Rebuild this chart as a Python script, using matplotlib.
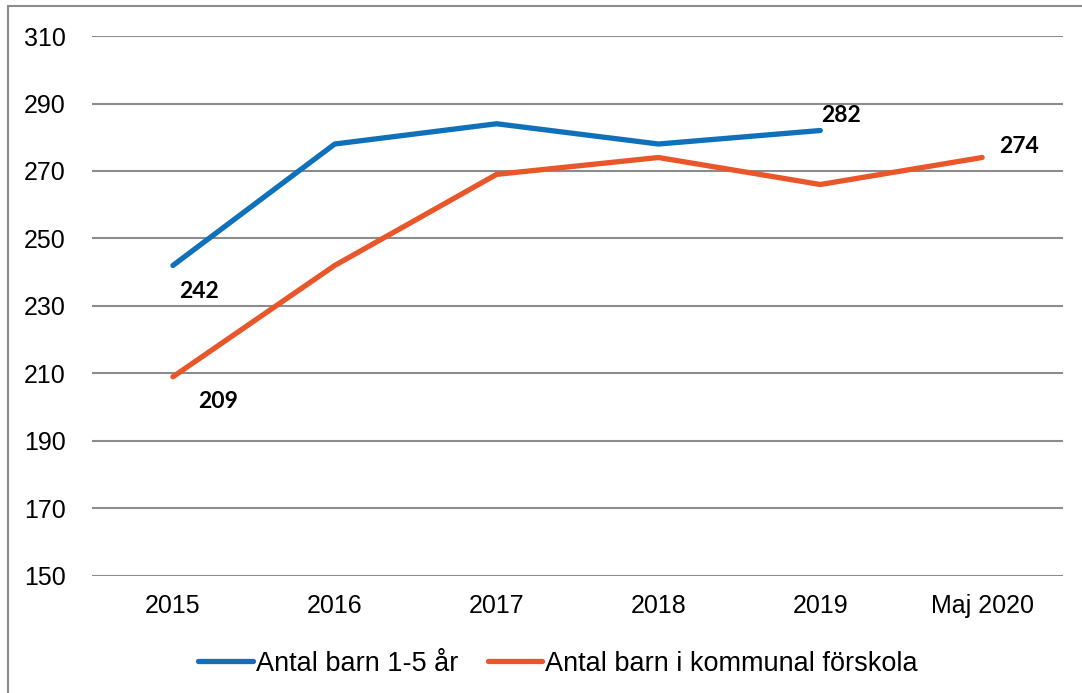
import matplotlib
matplotlib.use("Agg")
from matplotlib import pyplot as plt
from matplotlib.patches import Rectangle

years = ['2015', '2016', '2017', '2018', '2019', 'Maj 2020']
barn_1_5 = [242, 278, 284, 278, 282]
barn_forskola = [209, 242, 269, 274, 266, 274]
y_ticks = [150, 170, 190, 210, 230, 250, 270, 290, 310]

plt.rcParams['font.family'] = ['Liberation Sans', 'DejaVu Sans']

fig = plt.figure(figsize=(10.82, 6.93), dpi=100)
ax = fig.add_axes([0.085, 0.169, 0.8975, 0.779])

# ram runt hela figuren
fig.patches.append(Rectangle((8 / 1082, -0.1), 1.2, 1 - 6 / 693 + 0.1, transform=fig.transFigure,
                             fill=False, edgecolor='#8c8c8c', linewidth=1.5))

x = list(range(len(years)))
ax.plot(x[:len(barn_1_5)], barn_1_5, color='#0F71BA', linewidth=3.8,
        solid_capstyle='round', label='Antal barn 1-5 år')
ax.plot(x, barn_forskola, color='#E8562A', linewidth=3.8,
        solid_capstyle='round', label='Antal barn i kommunal förskola')

lab = dict(fontsize=16.5, fontweight='bold', family=['Lato', 'DejaVu Sans'])
ax.annotate(str(barn_1_5[0]), (x[0], barn_1_5[0]), xytext=(26, -26), textcoords='offset pixels',
            ha='center', va='center', **lab)
ax.annotate(str(barn_forskola[0]), (x[0], barn_forskola[0]), xytext=(45, -25), textcoords='offset pixels',
            ha='center', va='center', **lab)
ax.annotate(str(barn_1_5[4]), (x[4], barn_1_5[4]), xytext=(21, 15), textcoords='offset pixels',
            ha='center', va='center', **lab)
ax.annotate(str(barn_forskola[5]), (x[5], barn_forskola[5]), xytext=(37, 11), textcoords='offset pixels',
            ha='center', va='center', **lab)

ax.set_xlim(-0.5, len(years) - 0.5)
ax.set_ylim(150, 310)
ax.set_yticks(y_ticks)
ax.set_xticks(x)
ax.set_xticklabels(years)
ax.tick_params(length=0, labelsize=18)
ax.tick_params(axis='x', pad=13)
ax.tick_params(axis='y', pad=19)
ax.grid(axis='y', color='#8c8c8c', linewidth=1.5)
ax.set_axisbelow(True)
for s in ax.spines.values():
    s.set_visible(False)

fig.legend(loc='center', bbox_to_anchor=(0.516, 0.042), ncol=2, frameon=False, fontsize=19.5,
           handlelength=2.0, handletextpad=0.12, columnspacing=1.1)

fig.savefig('out.png', dpi=100)
